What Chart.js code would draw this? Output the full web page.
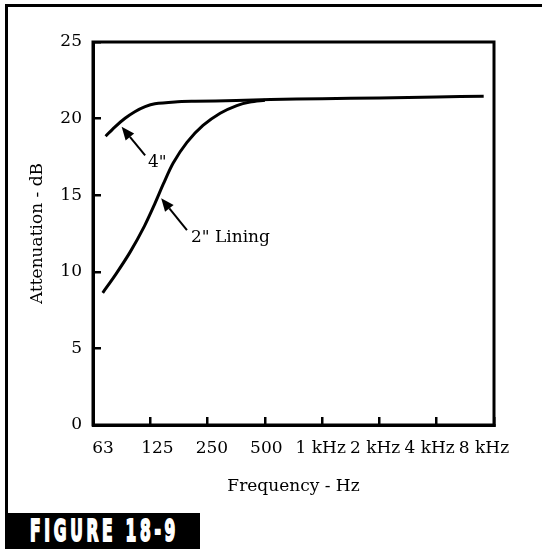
<!DOCTYPE html>
<html>
<head>
<meta charset="utf-8">
<script src="https://cdn.jsdelivr.net/npm/chart.js@4.4.1/dist/chart.umd.min.js"></script>
<style>
  html, body { margin: 0; padding: 0; background: #fff; }
  #wrap { position: relative; width: 542px; height: 549px; overflow: hidden; }
  #frame {
    position: absolute; left: 5px; top: 4px; width: 560px; height: 509px;
    border-top: 3px solid #000; border-left: 3px solid #000;
  }
  #fig { position: absolute; left: 5px; top: 513px; width: 195px; height: 36px; background: #000; }
  #fig span {
    position: absolute; left: 25px; top: 2px; color: #fff; white-space: nowrap;
    font: bold 31px/31px "DejaVu Sans", sans-serif; letter-spacing: 7.4px;
    -webkit-text-stroke: 2px #fff;
    transform: scaleX(0.5); transform-origin: left top;
  }
  canvas { position: absolute; left: 0; top: 0; }
</style>
</head>
<body>
<div id="wrap">
  <div id="frame"></div>
  <div id="fig"><span>FIGURE 18-9</span></div>
  <canvas id="chart" width="542" height="549"></canvas>
</div>
<script>
// ===============================
// Data (x = octave index, 0 = 63 Hz ... 7 = 8 kHz)
// ===============================
const octaveLabels = ["63", "125", "250", "500", "1 kHz", "2 kHz", "4 kHz", "8 kHz"];
const dbTicks = [0, 5, 10, 15, 20, 25];

const lining4X = [0.22, 0.38, 0.56, 0.73, 0.91, 1.08, 1.43, 1.78, 2.5, 3.1, 4, 5, 6, 6.82];
const lining4Y = [18.85, 19.45, 20.02, 20.45, 20.78, 20.97, 21.09, 21.13, 21.18, 21.25, 21.3, 21.35, 21.41, 21.46];

const lining2X = [0.17, 0.4, 0.65, 0.9, 1.08, 1.23, 1.4, 1.64, 1.92, 2.22, 2.51, 2.74, 3.0];
const lining2Y = [8.63, 9.85, 11.3, 13.0, 14.45, 15.75, 17.1, 18.45, 19.55, 20.35, 20.85, 21.08, 21.2];

// callouts: arrow tip, arrow tail, text anchor (data units)
const callouts = [
  { text: '4"', tip: [0.5, 19.46], tail: [0.91, 17.6], at: [0.96, 17.15] },
  { text: '2" Lining', tip: [1.19, 14.8], tail: [1.64, 12.72], at: [1.71, 12.26] }
];

const serif = "'DejaVu Serif', serif";
const fontSize = 17;

// ===============================
// Helpers
// ===============================
const toPoints = (xs, ys) => xs.map((x, i) => ({ x, y: ys[i] }));

const plotFrame = {
  id: "plotFrame",
  afterDraw(chart) {
    const { ctx, chartArea: a } = chart;
    ctx.save();
    ctx.strokeStyle = "#000";
    ctx.lineWidth = 3;
    ctx.strokeRect(a.left, a.top, a.right - a.left, a.bottom - a.top);
    ctx.restore();
  }
};

const calloutPlugin = {
  id: "callouts",
  afterDatasetsDraw(chart) {
    const { ctx, scales } = chart;
    const px = p => [scales.x.getPixelForValue(p[0]), scales.y.getPixelForValue(p[1])];
    ctx.save();
    callouts.forEach(c => {
      const [tx, ty] = px(c.tip);
      const [sx, sy] = px(c.tail);
      const ang = Math.atan2(ty - sy, tx - sx);
      const len = 13, half = 5.5;
      const bx = tx - Math.cos(ang) * len, by = ty - Math.sin(ang) * len;

      ctx.strokeStyle = "#000";
      ctx.lineWidth = 2;
      ctx.beginPath();
      ctx.moveTo(sx, sy);
      ctx.lineTo(bx, by);
      ctx.stroke();

      ctx.fillStyle = "#000";
      ctx.beginPath();
      ctx.moveTo(tx, ty);
      ctx.lineTo(bx + Math.sin(ang) * half, by - Math.cos(ang) * half);
      ctx.lineTo(bx - Math.sin(ang) * half, by + Math.cos(ang) * half);
      ctx.closePath();
      ctx.fill();

      const [lx, ly] = px(c.at);
      ctx.font = fontSize + "px " + serif;
      ctx.textAlign = "left";
      ctx.textBaseline = "middle";
      ctx.fillText(c.text, lx, ly);
    });
    ctx.restore();
  }
};

// ===============================
// Chart
// ===============================
const lineStyle = {
  borderColor: "#000",
  borderWidth: 3,
  pointRadius: 0,
  tension: 0.3,
  fill: false
};

new Chart(document.getElementById("chart").getContext("2d"), {
  type: "line",
  data: {
    datasets: [
      { label: '4"', data: toPoints(lining4X, lining4Y), ...lineStyle },
      { label: '2" Lining', data: toPoints(lining2X, lining2Y), ...lineStyle }
    ]
  },
  options: {
    responsive: false,
    devicePixelRatio: 1,
    animation: false,
    layout: { padding: { top: 42, right: 48, bottom: 48, left: 0 } },
    plugins: { legend: { display: false }, tooltip: { enabled: false } },
    scales: {
      x: {
        type: "linear",
        position: "bottom",
        weight: 0,
        min: 0,
        max: octaveLabels.length - 1,
        afterBuildTicks: s => { s.ticks = octaveLabels.map((_, i) => ({ value: i })); },
        afterFit: s => { s.height = 0; },
        ticks: { display: false },
        grid: { drawOnChartArea: false, drawTicks: true, tickLength: -8, lineWidth: 2.5, color: "#000" },
        border: { display: true, width: 3, color: "#000" }
      },
      // label row (typeset slightly inside the tick positions, as in the figure)
      xl: {
        type: "linear",
        position: "bottom",
        weight: 1,
        min: -0.184,
        max: 7.184,
        afterBuildTicks: s => { s.ticks = octaveLabels.map((_, i) => ({ value: i })); },
        afterFit: s => { s.height = 76; },
        ticks: {
          callback: v => octaveLabels[v],
          color: "#000",
          font: { family: serif, size: fontSize },
          padding: 13.8,
          maxRotation: 0,
          autoSkip: false
        },
        grid: { display: false, drawTicks: false },
        border: { display: false },
        title: {
          display: true,
          text: "Frequency - Hz",
          color: "#000",
          font: { family: serif, size: fontSize },
          padding: { top: 0, bottom: 3.8 }
        }
      },
      y: {
        type: "linear",
        position: "left",
        min: 0,
        max: 25,
        afterBuildTicks: s => { s.ticks = dbTicks.map(v => ({ value: v })); },
        afterFit: s => { s.width = 93; },
        ticks: {
          color: "#000",
          font: { family: serif, size: fontSize },
          padding: 19
        },
        grid: { drawOnChartArea: false, drawTicks: true, tickLength: -8, lineWidth: 2.5, color: "#000" },
        border: { display: true, width: 3, color: "#000" },
        title: {
          display: true,
          text: "Attenuation - dB",
          color: "#000",
          font: { family: serif, size: fontSize },
          padding: { top: 27.8, bottom: 0 }
        }
      }
    }
  },
  plugins: [plotFrame, calloutPlugin]
});
</script>
</body>
</html>
